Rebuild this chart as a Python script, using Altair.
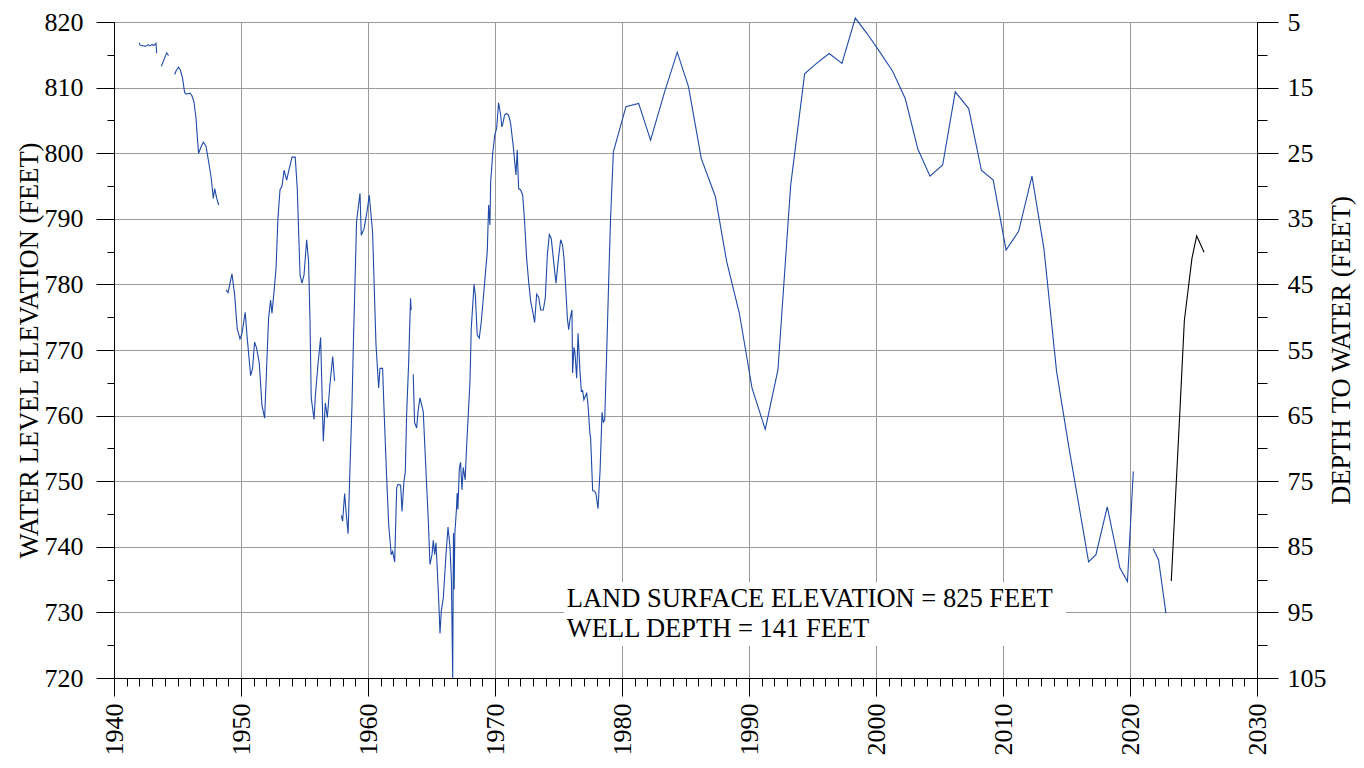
import altair as alt
import pandas as pd

FONT = "Liberation Serif"
BLUE = "#1f4aa8"
FS = 26.5

# ---------------- data ----------------
segA_year = [1941.99, 1942.05, 1942.41, 1942.46, 1942.68, 1942.83, 1942.99, 1943.15, 1943.31, 1943.36]
segA_elev = [816.85, 816.45, 816.35, 816.25, 816.55, 816.35, 816.55, 816.45, 816.75, 815.23]

segB_year = [1943.73, 1944.15, 1944.30]
segB_elev = [813.25, 815.3, 814.9]

segC_year = [1944.78, 1944.90, 1945.08, 1945.24, 1945.40, 1945.56, 1945.70, 1945.98, 1946.13, 1946.30,
             1946.46, 1946.55, 1946.66, 1946.82, 1947.03, 1947.24, 1947.45, 1947.66, 1947.82, 1947.93,
             1948.09, 1948.24]
segC_elev = [812.0, 812.6, 813.1, 812.6, 811.4, 809.25, 809.0, 809.15, 808.8, 807.8,
             805.3, 802.75, 800.0, 800.8, 801.7, 801.1, 798.7, 796.15, 793.1, 794.6,
             793.1, 792.1]

segD_year = [1948.82, 1948.98, 1949.29, 1949.50, 1949.70, 1949.92, 1950.08, 1950.33, 1950.49, 1950.76,
             1950.91, 1951.07, 1951.23, 1951.44, 1951.65, 1951.86, 1952.17, 1952.33, 1952.44, 1952.60,
             1952.76, 1952.91, 1953.07, 1953.23, 1953.39, 1953.60, 1953.80, 1954.02, 1954.27, 1954.43,
             1954.65, 1954.80, 1954.96, 1955.17, 1955.32, 1955.43, 1955.53, 1955.75, 1955.85, 1956.06,
             1956.27, 1956.48, 1956.64, 1956.80, 1957.00, 1957.22, 1957.37]
segD_elev = [779.16, 778.75, 781.6, 778.4, 773.3, 771.7, 772.55, 775.75, 771.8, 766.1,
             767.2, 771.2, 770.3, 768.0, 761.55, 759.6, 774.8, 777.6, 775.6, 778.9,
             782.45, 790.1, 794.4, 795.0, 797.4, 795.9, 797.7, 799.4, 799.4, 794.6,
             781.4, 780.2, 781.4, 786.8, 783.5, 774.8, 762.7, 759.4, 762.9, 767.75,
             771.9, 756.1, 761.9, 759.7, 764.7, 769.0, 765.3]

segE_year = [1957.90, 1958.00, 1958.16, 1958.27, 1958.43, 1958.58, 1958.74, 1958.84, 1959.10, 1959.37,
             1959.47, 1959.69, 1959.94, 1960.10, 1960.36, 1960.63, 1960.84, 1960.94, 1961.15, 1961.26,
             1961.47, 1961.63, 1961.83, 1961.94, 1962.10, 1962.26, 1962.36, 1962.57, 1962.68, 1962.83,
             1962.94, 1963.04, 1963.20, 1963.35, 1963.40]
segE_elev = [744.8, 743.9, 748.1, 745.4, 742.0, 752.0, 761.7, 770.3, 789.6, 793.9,
             787.5, 788.5, 791.3, 793.6, 788.0, 770.8, 764.2, 767.2, 767.2, 761.1,
             750.5, 743.4, 738.8, 739.3, 737.7, 749.0, 749.5, 749.4, 745.4, 750.0,
             751.5, 760.1, 768.0, 777.9, 776.1]

segF_year = [1963.56, 1963.67, 1963.83, 1963.94, 1964.09, 1964.35, 1964.48, 1964.75, 1964.88, 1965.04,
             1965.14, 1965.25, 1965.35, 1965.40, 1965.56, 1965.67, 1965.77, 1965.93, 1966.14, 1966.30,
             1966.46, 1966.57, 1966.67, 1966.73, 1966.78, 1966.84, 1966.97, 1967.02, 1967.08, 1967.19,
             1967.29, 1967.40, 1967.50, 1967.65, 1967.76, 1967.92, 1968.03, 1968.13, 1968.35, 1968.45,
             1968.60, 1968.76, 1968.92, 1969.08, 1969.18, 1969.39, 1969.50, 1969.60, 1969.66, 1969.82,
             1969.98, 1970.13, 1970.28, 1970.44, 1970.54, 1970.62, 1970.75, 1970.90, 1971.07, 1971.23,
             1971.43, 1971.65, 1971.75, 1971.86, 1972.02, 1972.18, 1972.33, 1972.49, 1972.65, 1972.81,
             1972.97, 1973.12, 1973.28, 1973.44, 1973.60, 1973.80, 1973.96, 1974.12, 1974.28, 1974.43,
             1974.59, 1974.80, 1975.00, 1975.17, 1975.32, 1975.43, 1975.54, 1975.70, 1975.80, 1975.90,
             1976.06, 1976.11, 1976.22, 1976.30, 1976.43, 1976.54, 1976.69, 1976.80, 1976.90, 1977.00,
             1977.10, 1977.22, 1977.32, 1977.48, 1977.53, 1977.69, 1977.84, 1977.95, 1978.11, 1978.27,
             1978.43, 1978.53, 1978.64, 1978.79, 1978.95, 1979.10, 1979.32, 1980.31, 1981.31, 1982.25,
             1983.35, 1984.35, 1985.24, 1986.24, 1987.35, 1988.24, 1989.24, 1990.24, 1991.28, 1992.28,
             1993.28, 1994.38, 1995.32, 1996.31, 1997.32, 1998.37, 1999.31, 2000.31, 2001.31, 2002.31,
             2003.30, 2004.25, 2005.25, 2006.24, 2007.30, 2008.30, 2009.23, 2010.24, 2011.23, 2012.28,
             2013.22, 2014.22, 2015.20, 2016.74, 2017.32, 2018.21, 2019.20, 2019.80, 2020.26]
segF_elev = [766.3, 758.9, 758.1, 760.6, 762.7, 760.6, 755.1, 743.9, 737.3, 738.8,
             741.0, 738.8, 740.6, 738.8, 732.2, 726.8, 730.2, 732.2, 738.8, 743.0,
             739.9, 734.8, 720.0, 742.1, 733.5, 742.1, 745.9, 748.2, 745.7, 751.9,
             752.9, 748.7, 752.1, 750.2, 755.1, 761.1, 765.2, 773.3, 780.0, 778.4,
             772.3, 771.8, 774.3, 777.9, 780.2, 785.0, 792.1, 789.05, 795.6, 800.0,
             802.75, 803.8, 807.7, 805.9, 804.0, 804.5, 805.8, 806.05, 805.8, 804.5,
             801.2, 796.7, 800.5, 794.6, 794.4, 793.6, 789.6, 784.0, 780.4, 777.4,
             775.9, 774.2, 778.5, 778.0, 776.1, 776.1, 777.9, 784.5, 787.6, 787.0,
             784.0, 780.2, 784.0, 786.8, 786.0, 784.0, 780.4, 774.8, 773.1, 774.6,
             776.1, 766.5, 770.4, 769.5, 765.7, 772.55, 766.7, 763.7, 763.8, 762.4,
             762.9, 763.4, 761.7, 757.1, 756.6, 748.55, 748.5, 748.1, 745.8, 751.5,
             760.5, 759.0, 759.3, 769.3, 780.4, 790.1, 800.2, 807.1, 807.6, 802.0,
             809.3, 815.4, 810.1, 799.2, 793.4, 783.5, 775.6, 764.2, 757.9, 767.0,
             795.1, 812.1, 813.7, 815.2, 813.7, 820.6, 818.2, 815.4, 812.5, 808.3,
             800.6, 796.5, 798.2, 809.35, 806.8, 797.4, 795.9, 785.25, 788.1, 796.5,
             785.5, 766.7, 755.05, 737.7, 738.8, 746.1, 736.8, 734.7, 751.5]

segG_year = [2021.83, 2022.25, 2022.83]
segG_elev = [739.7, 738.0, 729.85]

segH_year = [2023.25, 2023.94, 2024.28, 2024.88, 2025.25, 2025.83]
segH_elev = [734.8, 761.1, 774.5, 784.0, 787.4, 784.9]

segments = [
    ("A", segA_year, segA_elev, "blue"),
    ("B", segB_year, segB_elev, "blue"),
    ("C", segC_year, segC_elev, "blue"),
    ("D", segD_year, segD_elev, "blue"),
    ("E", segE_year, segE_elev, "blue"),
    ("F", segF_year, segF_elev, "blue"),
    ("G", segG_year, segG_elev, "blue"),
    ("H", segH_year, segH_elev, "black"),
]

LAND_SURFACE = 825

x_major = list(range(1940, 2031, 10))
x_minor = [y for y in range(1941, 2030) if y % 10]
y_major = list(range(720, 821, 10))
y_minor = list(range(725, 816, 10))
d_major = list(range(5, 106, 10))
d_minor = list(range(10, 101, 10))

note_lines = ["LAND SURFACE ELEVATION = 825 FEET", "WELL DEPTH = 141 FEET"]
note_x = 1975.65
note_y = [732.0, 727.45]
note_box = {"x1": 1975.45, "x2": 2014.95, "y1": 724.9, "y2": 734.6}

# ---------------- table ----------------
rows = []
for sid, yrs, elevs, series in segments:
    for yv, ev in zip(yrs, elevs):
        rows.append({"year": yv, "elev": ev, "depth": LAND_SURFACE - ev, "seg": sid, "series": series})
df = pd.DataFrame(rows)

notes = pd.DataFrame({"x": [note_x] * len(note_lines), "y": note_y, "t": note_lines})
box = pd.DataFrame([note_box])

xscale = alt.Scale(domain=[1940, 2030], nice=False, zero=False)
yscale = alt.Scale(domain=[720, 820], nice=False, zero=False)
dscale = alt.Scale(domain=[105, 5], nice=False, zero=False)

base = alt.Chart(df)

line = base.mark_line(strokeWidth=1.1, clip=False).encode(
    x=alt.X("year:Q", scale=xscale,
            axis=alt.Axis(values=x_major, format="d", labelAngle=-90, tickSize=18,
                          labelPadding=7, labelFontSize=26, grid=True, title=None,
                          labelFlush=False, labelOverlap=False)),
    y=alt.Y("elev:Q", scale=yscale,
            axis=alt.Axis(values=y_major, format="d", tickSize=18, labelPadding=13,
                          grid=True, title="WATER LEVEL ELEVATION (FEET)", titlePadding=1,
                          labelFlush=False, labelOverlap=False)),
    color=alt.Color("series:N", scale=alt.Scale(domain=["blue", "black"], range=[BLUE, "#000000"]),
                    legend=None),
    detail="seg:N",
)

minor_lb = base.mark_point(opacity=0).encode(
    x=alt.X("year:Q", scale=xscale,
            axis=alt.Axis(values=x_minor, orient="bottom", tickSize=8, labels=False,
                          domain=False, grid=False, title=None)),
    y=alt.Y("elev:Q", scale=yscale,
            axis=alt.Axis(values=y_minor, orient="left", tickSize=7, labels=False,
                          domain=False, grid=False, title=None)),
)

right_major = base.mark_point(opacity=0).encode(
    x=alt.X("year:Q", scale=xscale, axis=None),
    y=alt.Y("depth:Q", scale=dscale,
            axis=alt.Axis(values=d_major, format="d", orient="right", tickSize=21, labelPadding=9,
                          grid=False, title="DEPTH TO WATER (FEET)", titlePadding=2,
                          titleAngle=270, titleBaseline="top",
                          labelFlush=False, labelOverlap=False)),
)

right_minor = base.mark_point(opacity=0).encode(
    x=alt.X("year:Q", scale=xscale, axis=None),
    y=alt.Y("depth:Q", scale=dscale,
            axis=alt.Axis(values=d_minor, orient="right", tickSize=10, labels=False,
                          domain=False, grid=False, title=None)),
)

box_layer = alt.Chart(box).mark_rect(color="white").encode(
    x=alt.X("x1:Q", scale=xscale, axis=None),
    x2="x2:Q",
    y=alt.Y("y1:Q", scale=yscale, axis=None),
    y2="y2:Q",
)

text_layer = alt.Chart(notes).mark_text(align="left", baseline="middle", font=FONT,
                                         fontSize=FS, color="black").encode(
    x=alt.X("x:Q", scale=xscale, axis=None),
    y=alt.Y("y:Q", scale=yscale, axis=None),
    text="t:N",
)

chart = alt.layer(line, minor_lb, right_major, right_minor, box_layer, text_layer).resolve_scale(
    x="independent", y="independent"
).properties(
    width=1143, height=656,
    autosize=alt.AutoSizeParams(type="none"),
    padding={"left": 106, "top": 14, "right": 99, "bottom": 78},
).configure_view(
    stroke="black", strokeWidth=1
).configure_axis(
    labelFont=FONT, titleFont=FONT, labelFontSize=26, titleFontSize=FS,
    titleFontWeight="normal", labelColor="black", titleColor="black",
    tickColor="black", domainColor="black", gridColor="#9a9a9a", gridWidth=1,
    tickWidth=1, domainWidth=1,
)

chart.save("out.html", embed_options={"renderer": "svg", "actions": False})
